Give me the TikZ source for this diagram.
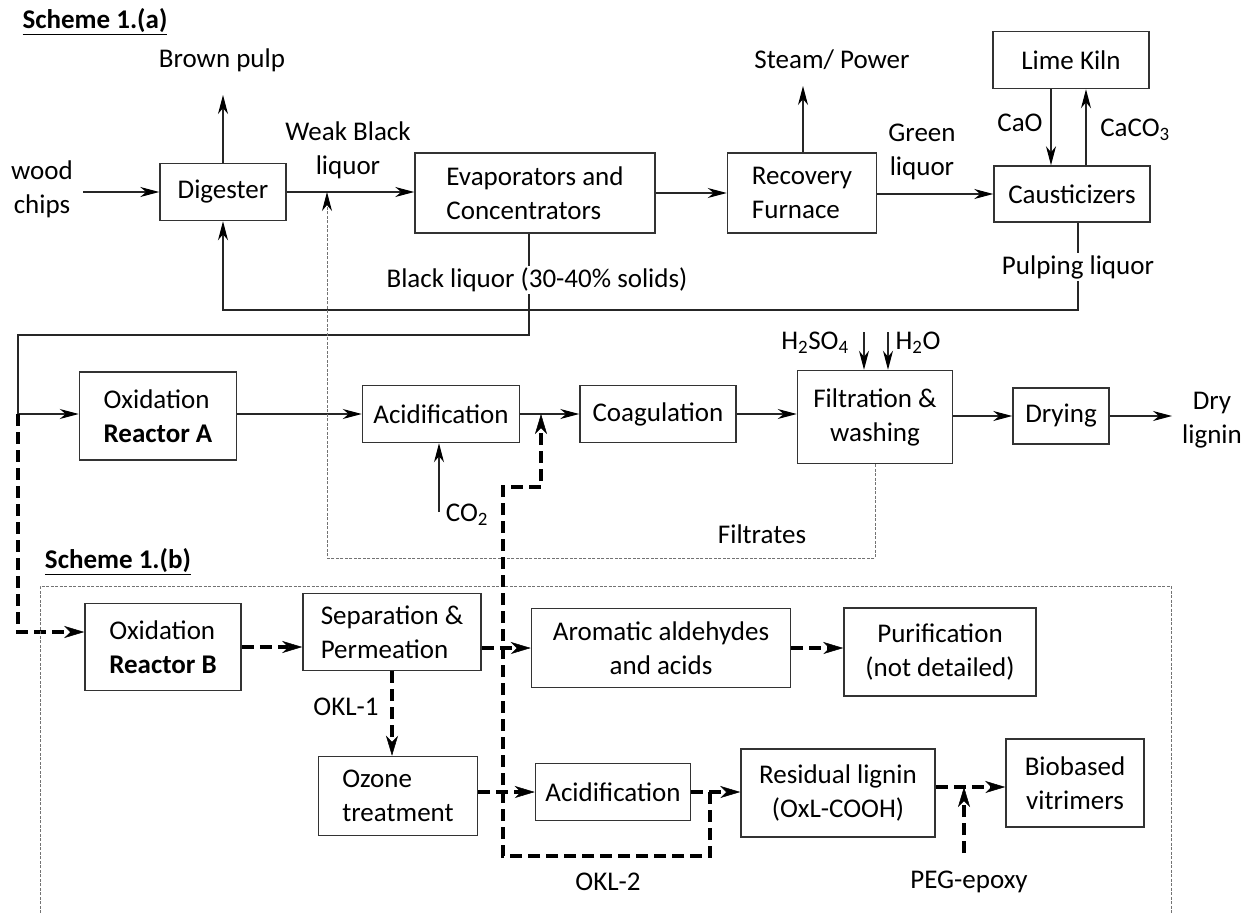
\documentclass[tikz,border=0pt]{standalone}
\usepackage{fontspec}
\setmainfont{Carlito}
\usetikzlibrary{arrows.meta}

\begin{document}
\begin{tikzpicture}[x=1pt, y=-1pt,
    every node/.style={font=\fontsize{27}{34}\selectfont},
    box/.style={draw=black!80, line width=1.5pt, inner sep=2pt, align=center},
    lbl/.style={inner sep=2pt, align=center},
    arr/.style={draw=black!85, line width=1.2pt, -{Stealth[length=19pt,width=10pt,inset=6pt,color=black]}},
    darr/.style={black, line width=3.3pt, dash pattern=on 12pt off 6pt, -{Stealth[length=20pt,width=12pt,inset=6pt,line width=0.5pt]}},
    recyc/.style={draw=black!55, line width=1pt, dash pattern=on 3pt off 1.5pt}]
  \useasboundingbox (0,0) rectangle (1243,913);

  % kraft process, scheme (a)
  \node[lbl] (schemea) at (95,22) {\underline{\textbf{Scheme 1.(a)}}};
  \node[lbl] (pulp) at (222,60) {Brown pulp};
  \node[lbl] (chips) at (42,189) {wood\\chips};
  \node[lbl] (weak) at (348,150) {Weak Black\\liquor};
  \node[lbl] (steam) at (832,60) {Steam/ Power};
  \node[lbl] (green) at (922,152) {Green\\liquor};
  \node[lbl] (cao) at (1020,123) {CaO};
  \node[lbl] (caco) at (1135,130) {CaCO\textsubscript{3}};
  \node[lbl] (blk) at (537,280) {Black liquor (30-40\% solids)};
  \node[lbl] (pulping) at (1078,267) {Pulping liquor};

  \node[box, minimum width=126pt, minimum height=57pt] (dig) at (223,192) {Digester};
  \node[box, align=left, minimum width=240pt, minimum height=80pt] (evap) at (535,193) {Evaporators and\\Concentrators};
  \node[box, align=left, minimum width=149pt, minimum height=80pt] (recov) at (802,193) {Recovery\\Furnace};
  \node[box, minimum width=156pt, minimum height=57pt] (kiln) at (1071,60) {Lime Kiln};
  \node[box, minimum width=156pt, minimum height=56pt] (caust) at (1072,194) {Causticizers};

  % lignin recovery line
  \node[box, align=left, minimum width=157pt, minimum height=88pt] (reacA) at (158,416) {Oxidation\\\textbf{Reactor A}};
  \node[box, minimum width=157pt, minimum height=57pt] (acidA) at (441,414) {Acidification};
  \node[box, minimum width=156pt, minimum height=57pt] (coag) at (658,414) {Coagulation};
  \node[box, minimum width=155pt, minimum height=93pt] (filt) at (875,417) {Filtration \&\\washing};
  \node[box, minimum width=96pt, minimum height=56pt] (dry) at (1061,416) {Drying};
  \node[lbl] (lignin) at (1212,420) {Dry\\lignin};
  \node[lbl] (co2) at (467,515) {CO\textsubscript{2}};
  \node[lbl] (h2so4) at (815,343) {H\textsubscript{2}SO\textsubscript{4}};
  \node[lbl] (h2o) at (918,343) {H\textsubscript{2}O};
  \node[lbl] (filtrates) at (762,534) {Filtrates};

  % scheme (b)
  \node[lbl] (schemeb) at (118,562) {\underline{\textbf{Scheme 1.(b)}}};
  \node[box, align=left, minimum width=156pt, minimum height=87pt] (reacB) at (163,647) {Oxidation\\\textbf{Reactor B}};
  \node[box, align=left, minimum width=178pt, minimum height=77pt] (sep) at (392,632) {Separation \&\\Permeation};
  \node[box, minimum width=259pt, minimum height=79pt] (arom) at (661,648) {Aromatic aldehydes\\and acids};
  \node[box, minimum width=192pt, minimum height=88pt] (puri) at (940,652) {Purification\\(not detailed)};
  \node[box, align=left, minimum width=159pt, minimum height=79pt] (ozone) at (398,796) {Ozone\\treatment};
  \node[box, minimum width=155pt, minimum height=57pt] (acidB) at (613,792) {Acidification};
  \node[box, minimum width=194pt, minimum height=88pt] (resid) at (838,793) {Residual lignin\\(OxL-COOH)};
  \node[box, minimum width=138pt, minimum height=88pt] (vitri) at (1075,783) {Biobased\\vitrimers};
  \node[lbl] (okla) at (346,707) {OKL-1};
  \node[lbl] (oklb) at (608,882) {OKL-2};
  \node[lbl] (peg) at (969,882) {PEG-epoxy};

  % bends and free ends
  \coordinate (pulpout) at (223,95);
  \coordinate (steamout) at (803,86);
  \coordinate (retn) at (223,310);
  \coordinate (blsplit) at (529,335);
  \coordinate (feed) at (18,414);
  \coordinate (co2in) at (439,512);
  \coordinate (h2so4in) at (864,332);
  \coordinate (h2oin) at (888,332);
  \coordinate (ligninout) at (1172,416);
  \coordinate (wbl) at (327,558);
  \coordinate (bend) at (541,487);
  \coordinate (oklcorner) at (503,856);
  \coordinate (j2) at (710,792);
  \coordinate (j3) at (964,787);
  \coordinate (pegin) at (964,853);

  \draw[arr, shorten <=8pt] (chips.east |- dig.west) -- (dig.west);
  \draw[arr] (dig.north) -- (pulpout);
  \draw[arr] (dig.east) -- (evap.west |- dig.east);
  \draw[arr] (evap.east) -- (recov.west);
  \draw[arr] (recov.north -| steamout) -- (steamout);
  \draw[arr] (recov.east |- caust.west) -- (caust.west);
  \draw[arr] ([xshift=-20pt]kiln.south) -- ([xshift=-20pt]kiln.south |- caust.north);
  \draw[arr] ([xshift=14pt]caust.north) -- ([xshift=14pt]caust.north |- kiln.south);
  \draw[draw=black!85, line width=1.2pt] (caust.south -| pulping) -- (pulping.north);
  \draw[arr] (pulping.south) |- (retn) -- (dig.south);
  \draw[draw=black!85, line width=1.2pt] (evap.south -| blsplit) -- (blk.north -| blsplit);
  \draw[arr] (blk.south -| blsplit) -- (blsplit) -| (feed) -- (reacA.west |- feed);
  \draw[darr] (feed) |- ([yshift=15pt]reacB.west);

  \draw[arr] (reacA.east |- acidA.west) -- (acidA.west);
  \draw[arr] (co2in) -- (co2in |- acidA.south);
  \draw[arr] (acidA.east) -- (coag.west);
  \draw[arr] (coag.east) -- (coag.east -| filt.west);
  \draw[arr] (h2so4in) -- (h2so4in |- filt.north);
  \draw[arr] (h2oin) -- (h2oin |- filt.north);
  \draw[arr] (filt.east |- dry.west) -- (dry.west);
  \draw[arr] (dry.east) -- (ligninout);
  \draw[recyc, -{Stealth[length=19pt,width=10pt,inset=6pt,color=black]}] (filt.south) |- (wbl) -- (wbl |- dig.east);

  % frame round scheme (b)
  \draw[recyc] (40,913) |- (1171,586) -- (1171,913);

  \draw[darr] (reacB.east) -- (reacB.east -| sep.west);
  \draw[darr] (sep.east |- arom.west) -- (arom.west);
  \draw[darr] (arom.east) -- (arom.east -| puri.west);
  \draw[darr] (sep.south) -- (sep.south |- ozone.north);
  \draw[darr] (ozone.east |- acidB.west) -- (acidB.west);
  \draw[darr] (acidB.east) -- (acidB.east -| resid.west);
  \draw[darr] (j2) |- (oklcorner) |- (bend) -- (bend |- acidA.east);
  \draw[darr] (resid.east |- j3) -- (j3 -| vitri.west);
  \draw[darr] (pegin) -- (j3);
\end{tikzpicture}
\end{document}
